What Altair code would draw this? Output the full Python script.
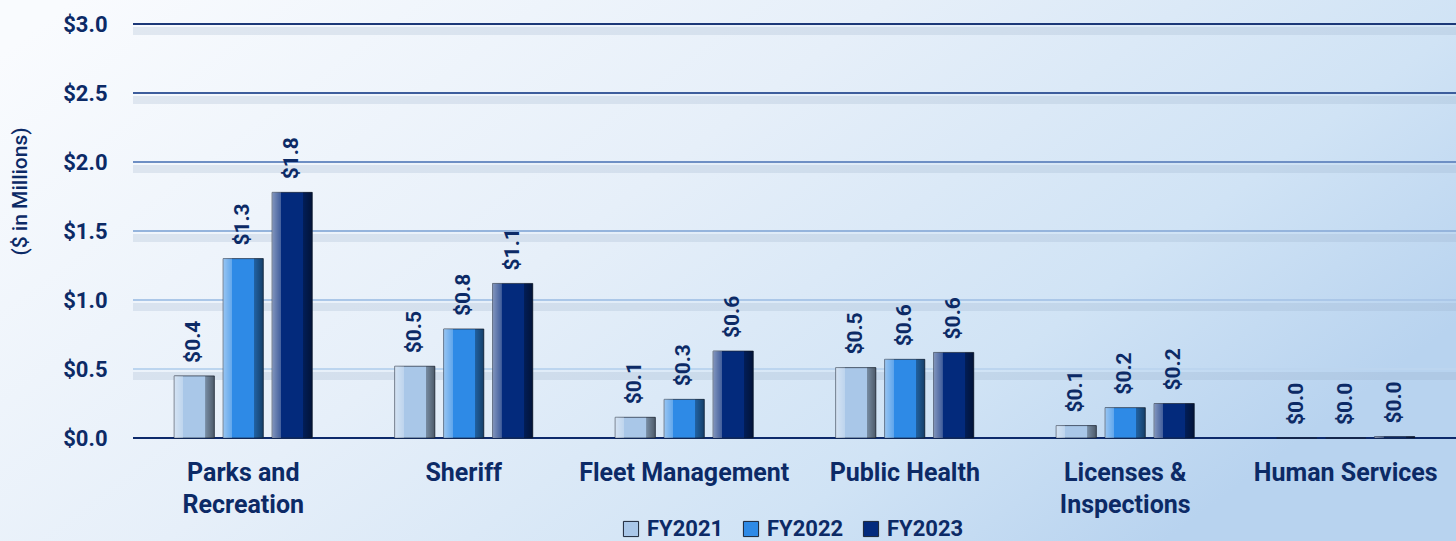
import altair as alt
import pandas as pd

categories = ["Parks and Recreation", "Sheriff", "Fleet Management", "Public Health",
              "Licenses & Inspections", "Human Services"]
series = ["FY2021", "FY2022", "FY2023"]
fy2021 = [0.45, 0.52, 0.15, 0.51, 0.09, 0.0]
fy2022 = [1.30, 0.79, 0.28, 0.57, 0.22, 0.0]
fy2023 = [1.78, 1.12, 0.63, 0.62, 0.25, 0.01]
lab2021 = ["$0.4", "$0.5", "$0.1", "$0.5", "$0.1", "$0.0"]
lab2022 = ["$1.3", "$0.8", "$0.3", "$0.6", "$0.2", "$0.0"]
lab2023 = ["$1.8", "$1.1", "$0.6", "$0.6", "$0.2", "$0.0"]
tick_values = [0.0, 0.5, 1.0, 1.5, 2.0, 2.5, 3.0]
grid_colors = ["#0d2a6b", "#bcd5ef", "#abc7e8", "#95b4dc", "#6e8fc4", "#3d5d9c", "#1c3878"]
bar_colors = ["#a9c7e8", "#2e8ae6", "#032a7c"]

NAVY = "#0c2a66"
FONT = "Roboto"
W, H = 1323, 414
PL, PT, PR, PB = 133, 24, 0, 103

rows = []
for s, vals, labs in [("FY2021", fy2021, lab2021), ("FY2022", fy2022, lab2022), ("FY2023", fy2023, lab2023)]:
    for c, v, l in zip(categories, vals, labs):
        rows.append({"category": c, "series": s, "value": v, "label": l})
df = pd.DataFrame(rows)
grid_df = pd.DataFrame({"v": tick_values, "c": grid_colors})
bg_df = pd.DataFrame({"k": [0]})

bg = alt.Chart(bg_df).mark_rect(
    fill=alt.LinearGradient(
        gradient="linear", x1=0, y1=0.1, x2=1, y2=0.6,
        stops=[alt.GradientStop(color="#f9fbfe", offset=0),
               alt.GradientStop(color="#e6eff9", offset=0.45),
               alt.GradientStop(color="#d0e3f5", offset=0.78),
               alt.GradientStop(color="#b8d3ef", offset=1)]),
).encode(x=alt.value(-PL), x2=alt.value(W + PR), y=alt.value(-PT), y2=alt.value(H + PB))

yscale = alt.Scale(domain=[0, 3], nice=False)
yaxis = alt.Axis(values=tick_values, format="$.1f", grid=False, domain=False, ticks=False,
                 zindex=1,
                 labelFont=FONT, labelFontSize=22, labelFontWeight="bold", labelColor=NAVY,
                 labelPadding=26, title="($ in Millions)", titleFont=FONT, titleFontSize=21,
                 titleFontWeight=500, titleColor=NAVY, titleAngle=270, titleX=-113, titleY=167,
                 titleAlign="center", titleBaseline="middle")
xscale = alt.Scale(domain=categories, paddingInner=0.374, paddingOuter=0.187)
xoff = alt.XOffset("series:N", scale=alt.Scale(domain=series, paddingInner=0.18, paddingOuter=0))

shadow = alt.Chart(grid_df[grid_df.v > 0]).transform_calculate(v2="datum.v - 0.05").mark_rule(
    strokeWidth=8, color="#93a8c2", opacity=0.22
).encode(y=alt.Y("v2:Q", scale=yscale, axis=yaxis))

grid = alt.Chart(grid_df).mark_rule(strokeWidth=2).encode(
    y=alt.Y("v:Q", scale=yscale, axis=yaxis),
    color=alt.Color("c:N", scale=None),
)

base = alt.Chart(df).encode(
    x=alt.X("category:N", scale=xscale, sort=categories,
            axis=alt.Axis(title=None, domain=False, ticks=False, labelAngle=0, labelFont=FONT,
                          zindex=1, labelLimit=0,
                          labelFontSize=25, labelFontWeight="bold", labelColor=NAVY, labelPadding=22,
                          labelLineHeight=32,
                          labelExpr="datum.label == 'Parks and Recreation' ? ['Parks and', 'Recreation'] : datum.label == 'Licenses & Inspections' ? ['Licenses &', 'Inspections'] : datum.label")),
    xOffset=xoff,
    y=alt.Y("value:Q", scale=yscale, axis=yaxis),
)

bars = base.mark_bar(stroke="#1b2536", strokeWidth=1, strokeOpacity=0.7).encode(
    color=alt.Color("series:N", scale=alt.Scale(domain=series, range=bar_colors),
                    legend=alt.Legend(title=None, orient="none", direction="horizontal",
                                      legendX=487, legendY=494, symbolType="square", symbolSize=230,
                                      symbolStrokeColor="#1b2536", symbolStrokeWidth=1,
                                      labelFont=FONT, labelFontSize=22, labelFontWeight="bold",
                                      labelColor=NAVY, labelOffset=5, columnPadding=16))
)

bevel = base.mark_bar(
    fill=alt.LinearGradient(
        gradient="linear", x1=0, y1=0, x2=1, y2=0,
        stops=[alt.GradientStop(color="rgba(255,255,255,0.5)", offset=0),
               alt.GradientStop(color="rgba(255,255,255,0.25)", offset=0.22),
               alt.GradientStop(color="rgba(255,255,255,0)", offset=0.23),
               alt.GradientStop(color="rgba(0,0,0,0)", offset=0.77),
               alt.GradientStop(color="rgba(0,0,0,0.3)", offset=0.78),
               alt.GradientStop(color="rgba(0,0,0,0.55)", offset=1)]),
)

labels = base.mark_text(angle=270, align="left", baseline="middle", dx=13, font=FONT,
                        fontSize=21, fontWeight="bold", color=NAVY).encode(text="label:N")

chart = alt.layer(bg, shadow, grid, bars, bevel, labels).properties(
    width=W, height=H,
    autosize=alt.AutoSizeParams(type="none"),
    padding={"left": PL, "top": PT, "right": PR, "bottom": PB},
).configure_view(stroke=None)

chart.save("out.html", embed_options={"renderer": "svg", "actions": False})
